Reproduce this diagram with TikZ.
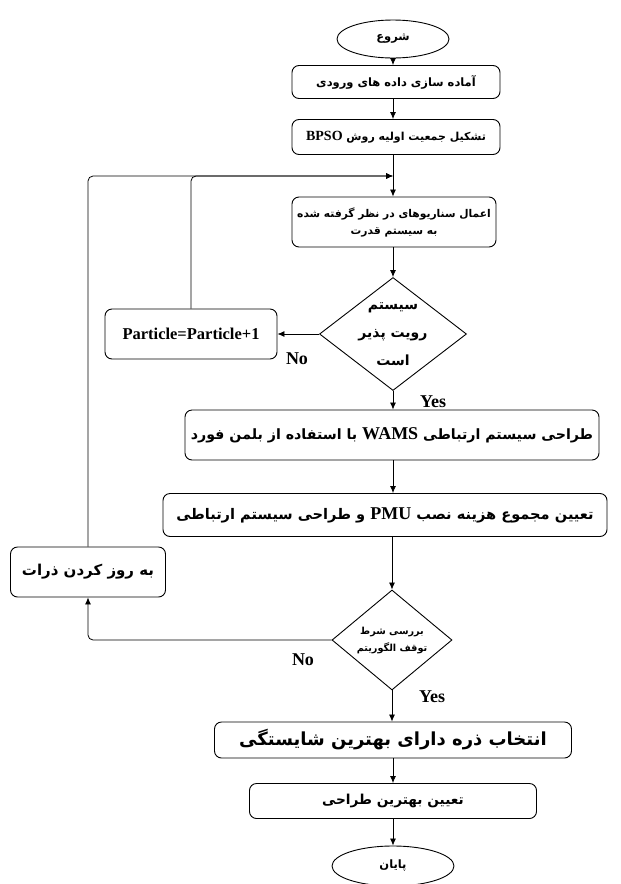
\documentclass[tikz,border=0pt]{standalone}
\usepackage{fontspec}
\usetikzlibrary{shapes.geometric,arrows.meta}
\TeXXeTstate=1
\newfontfamily\fa[Script=Arabic]{DejaVu Sans}
\newfontfamily\la{Liberation Serif}
\newcommand{\FA}[1]{{\fa\bfseries\beginR #1\endR}}
\newcommand{\LA}[1]{\beginL{\la\bfseries #1}\endL{}}
\begin{document}
\begin{tikzpicture}[x=1pt,y=-1pt,
  box/.style={draw,rounded corners=7pt,line width=0.9pt,fill=white,inner sep=0pt,align=center},
  oval/.style={draw,ellipse,line width=0.9pt,inner sep=0pt},
  dia/.style={draw,diamond,line width=0.9pt,inner sep=0pt,align=center},
  arr/.style={-{Latex[length=7pt,width=6pt]},line width=0.8pt},
  lbl/.style={font=\la\bfseries\fontsize{18}{20}\selectfont}]
\useasboundingbox (0,0) rectangle (621,884);
% nodes
\node[oval,minimum width=112pt,minimum height=38pt,font=\fontsize{11.5}{13}\selectfont] (start) at (393,39) {\FA{شروع}};
\node[box,minimum width=208pt,minimum height=33pt,font=\fontsize{11.5}{13}\selectfont] (b1) at (396,82) {\FA{آماده سازی داده های ورودی}};
\node[box,minimum width=208pt,minimum height=35pt,font=\fontsize{11}{13}\selectfont] (b2) at (396,137) {\FA{تشکیل جمعیت اولیه روش \LA{\fontsize{14}{15}\selectfont BPSO}}};
\node[box,minimum width=204pt,minimum height=50pt,font=\fontsize{10.7}{17}\selectfont] (b3) at (394,222) {\FA{اعمال سناریوهای در نظر گرفته شده}\\\FA{به سیستم قدرت}};
\node[dia,minimum width=147pt,minimum height=113pt] (d1) at (393,334) {};
\node[align=center,inner sep=0pt,font=\fontsize{14}{28}\selectfont] (d1t) at (d1.center) {\FA{سیستم}\\\FA{رویت پذیر}\\\FA{است}};
\node[box,minimum width=172pt,minimum height=50pt,font=\fontsize{16.5}{18}\selectfont] (part) at (191,334) {\LA{Particle=Particle+1}};
\node[box,minimum width=414pt,minimum height=50pt,font=\fontsize{14.2}{16}\selectfont] (b4) at (392,435) {\FA{طراحی سیستم ارتباطی \LA{\fontsize{18}{19}\selectfont WAMS} با استفاده از بلمن فورد}};
\node[box,minimum width=444pt,minimum height=43pt,font=\fontsize{14.6}{16}\selectfont] (b5) at (385,515) {\FA{تعیین مجموع هزینه نصب \LA{\fontsize{18}{19}\selectfont PMU} و طراحی سیستم ارتباطی}};
\node[box,minimum width=155pt,minimum height=50pt,font=\fontsize{15}{17}\selectfont] (upd) at (88,572) {\FA{به روز کردن ذرات}};
\node[dia,minimum width=120pt,minimum height=100pt,font=\fontsize{9.7}{17}\selectfont] (d2) at (392,640) {\FA{بررسی شرط}\\\FA{توقف الگوریتم}};
\node[box,minimum width=357pt,minimum height=36pt,font=\fontsize{18}{20}\selectfont] (b6) at (393,740) {\FA{انتخاب ذره دارای بهترین شایستگی}};
\node[box,minimum width=287pt,minimum height=35pt,font=\fontsize{13.7}{15}\selectfont] (b7) at (393,801) {\FA{تعیین بهترین طراحی}};
\node[oval,minimum width=122pt,minimum height=40pt,font=\fontsize{11.5}{13}\selectfont] (stop) at (393,866) {\FA{پایان}};
% labels
\node[lbl] (no1) at (297,359) {No};
\node[lbl] (yes1) at (433,402) {Yes};
\node[lbl] (no2) at (303,660) {No};
\node[lbl] (yes2) at (432,697) {Yes};
\coordinate (m) at (393,176);
% connectors
\draw[arr] (start.south) -- (start.south |- b1.north);
\draw[arr] (start.south |- b1.south) -- (start.south |- b2.north);
\draw[arr] (start.south |- b2.south) -- (start.south |- b3.north);
\draw[arr] (start.south |- b3.south) -- (d1.north);
\draw[arr] (d1.south) -- (d1.south |- b4.north);
\draw[arr] (d1.south |- b4.south) -- (d1.south |- b5.north);
\draw[arr] (d2.north |- b5.south) -- (d2.north);
\draw[arr] (d2.south) -- (d2.south |- b6.north);
\draw[arr] (b6.south) -- (b7.north);
\draw[arr] (b7.south) -- (stop.north);
\draw[arr] (d1.west) -- (part.east);
\draw[arr,rounded corners=5pt] (part.north) |- (m);
\draw[arr,rounded corners=5pt] (upd.north) |- (m);
\draw[arr,rounded corners=5pt] (d2.west) -| (upd.south);
\end{tikzpicture}
\end{document}
